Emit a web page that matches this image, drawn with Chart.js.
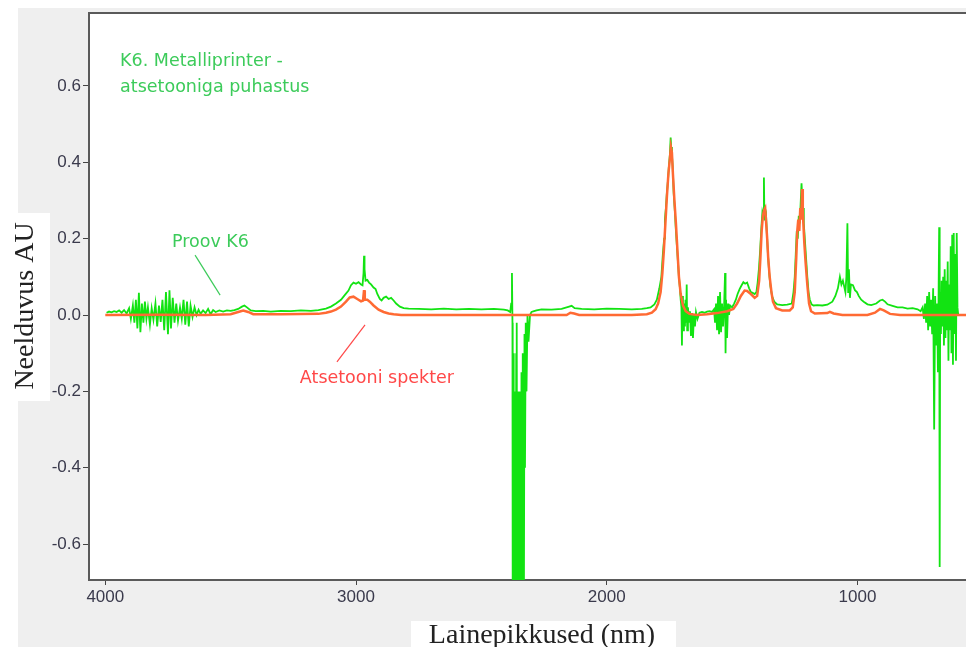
<!DOCTYPE html>
<html>
<head>
<meta charset="utf-8">
<script src="https://cdn.jsdelivr.net/npm/chart.js@4.4.1/dist/chart.umd.min.js"></script>
<style>
  html, body { margin: 0; padding: 0; background: #fff; }
  canvas { display: block; }
</style>
</head>
<body>
<canvas id="spekter" width="966" height="647"></canvas>
<script>
// Atsetooni võrdlusspekter (lainearv / neelduvus)
const acetoneWn = [4000, 3800, 3600, 3500, 3470, 3450, 3430, 3410, 3300, 3150, 3120, 3100, 3080, 3060, 3040, 3025,
  3010, 2995, 2980, 2972, 2968, 2965, 2955, 2945, 2930, 2910, 2890, 2870, 2850, 2820, 2600, 2390, 2300, 2160,
  2145, 2130, 2110, 1900, 1840, 1820, 1805, 1795, 1785, 1778, 1772, 1766, 1760, 1754, 1748, 1744, 1740, 1736,
  1730, 1724, 1718, 1712, 1705, 1696, 1685, 1670, 1640, 1600, 1560, 1520, 1495, 1480, 1465, 1450, 1440, 1425,
  1410, 1400, 1392, 1387, 1382, 1377, 1372, 1368, 1364, 1360, 1356, 1350, 1343, 1337, 1325, 1300, 1270, 1258,
  1250, 1244, 1240, 1236, 1232, 1228, 1224, 1221, 1218, 1215, 1212, 1207, 1200, 1193, 1185, 1170, 1120, 1110,
  1095, 1060, 960, 930, 910, 895, 870, 830, 550];
const acetoneAbs = [0.0, 0.001, 0.0, 0.002, 0.008, 0.012, 0.008, 0.002, 0.002, 0.003, 0.006, 0.009, 0.014, 0.022, 0.035, 0.046,
  0.048, 0.042, 0.036, 0.038, 0.065, 0.04, 0.04, 0.035, 0.025, 0.014, 0.008, 0.004, 0.002, 0.0, 0.0, 0.0, 0.0, 0.0,
  0.006, 0.004, 0.0, 0.0, 0.002, 0.006, 0.015, 0.03, 0.06, 0.11, 0.17, 0.24, 0.31, 0.37, 0.41, 0.44, 0.425, 0.37,
  0.30, 0.24, 0.17, 0.10, 0.055, 0.025, 0.01, 0.003, 0.0, 0.002, 0.005, 0.010, 0.016, 0.03, 0.05, 0.064, 0.063, 0.055,
  0.045, 0.05, 0.09, 0.15, 0.22, 0.26, 0.275, 0.28, 0.24, 0.2, 0.15, 0.10, 0.06, 0.035, 0.018, 0.012, 0.012, 0.02,
  0.06, 0.15, 0.22, 0.25, 0.22, 0.28, 0.25, 0.33, 0.27, 0.23, 0.19, 0.14, 0.08, 0.03, 0.01, 0.004, 0.005, 0.008,
  0.004, 0.0, 0.0, 0.006, 0.016, 0.012, 0.003, 0.0, 0.0];

// Proov K6 mõõdetud spekter
const sampleWn = [3995, 3985, 3975, 3965, 3955, 3945, 3935, 3925, 3915, 3905, 3898, 3890, 3884, 3878, 3872, 3866,
  3860, 3854, 3848, 3842, 3836, 3830, 3822, 3815, 3808, 3800, 3793, 3786, 3779, 3772, 3765, 3758, 3750, 3744,
  3738, 3731, 3724, 3717, 3710, 3702, 3695, 3688, 3681, 3674, 3667, 3660, 3652, 3644, 3636, 3628, 3620, 3610,
  3600, 3590, 3580, 3570, 3560, 3545, 3530, 3515, 3500, 3485, 3470, 3455, 3445, 3435, 3420, 3400, 3370, 3340,
  3300, 3260, 3220, 3180, 3150, 3120, 3100, 3080, 3060, 3045, 3030, 3020, 3010, 3000, 2990, 2980, 2974, 2970,
  2968, 2966, 2962, 2955, 2948, 2940, 2930, 2922, 2915, 2905, 2898, 2890, 2880, 2870, 2860, 2850, 2840, 2825,
  2810, 2790, 2750, 2700, 2650, 2600, 2550, 2500, 2450, 2410, 2395, 2385, 2381, 2378, 2376, 2375, 2373, 2372,
  2370, 2369, 2367, 2366, 2364, 2363, 2361, 2360, 2358, 2357, 2355, 2354, 2352, 2351, 2349, 2348, 2346, 2345,
  2343, 2342, 2340, 2339, 2337, 2336, 2334, 2333, 2331, 2330, 2328, 2326, 2323, 2320, 2316, 2312, 2306, 2300,
  2290, 2280, 2260, 2220, 2180, 2150, 2140, 2128,
  2100, 2050, 2000, 1950, 1900, 1860, 1840, 1825, 1810, 1800, 1790, 1782, 1776, 1771, 1768, 1764, 1760, 1756,
  1752, 1748, 1745, 1743, 1740, 1737, 1733, 1728, 1724, 1720, 1716, 1712, 1708, 1705, 1702, 1700, 1698, 1696,
  1694, 1692, 1690, 1688, 1686, 1684, 1681, 1679, 1676, 1672, 1668, 1664, 1660, 1656, 1652, 1648, 1644, 1638,
  1630, 1620, 1610, 1600, 1590, 1580, 1572, 1568, 1564, 1560, 1556, 1552, 1548, 1544, 1540, 1536, 1532, 1528,
  1526, 1524, 1520, 1516, 1512, 1508, 1500, 1492, 1485, 1478, 1470, 1462, 1455, 1448, 1440, 1432, 1425, 1418,
  1410, 1403, 1398, 1393, 1388, 1383, 1379, 1375, 1373, 1371, 1369, 1365, 1361, 1357, 1352, 1347, 1340, 1332,
  1320, 1300, 1280, 1262, 1255, 1250, 1246, 1242, 1238, 1234, 1230, 1226, 1223, 1220, 1217, 1214, 1210, 1205,
  1200, 1195, 1190, 1183, 1175, 1160, 1140, 1120, 1100, 1088, 1078, 1070, 1064, 1058, 1048, 1044, 1040, 1037,
  1034, 1030, 1026, 1018, 1010, 1002, 995, 985, 975, 960, 945, 925, 910, 900, 890, 880, 860, 840, 820, 800, 780,
  760, 748, 740, 735, 730, 726, 722, 718, 714, 710, 706, 702, 698, 694, 690, 686, 682, 679, 676, 674, 672, 670,
  667, 664, 661, 658, 655, 652, 649, 646, 643, 640, 637, 634, 631, 628, 625, 622, 619, 616, 613, 610, 607, 604,
  601, 598];
const sampleAbs = [0.006, 0.009, 0.007, 0.010, 0.008, 0.012, 0.006, 0.013, 0.004, 0.018, -0.01, 0.025, -0.02, 0.04, -0.035, 0.058,
  -0.045, 0.03, -0.02, 0.035, -0.01, 0.02, -0.025, 0.018, -0.012, 0.03, -0.03, 0.025, -0.018, 0.04, -0.04, 0.06, -0.05, 0.065,
  -0.035, 0.045, -0.02, 0.03, -0.015, 0.02, -0.01, 0.04, -0.025, 0.035, -0.03, 0.025, -0.005, 0.02, 0.0, 0.014, 0.003, 0.012,
  0.005, 0.016, 0.002, 0.013, 0.008, 0.012, 0.009, 0.012, 0.011, 0.013, 0.016, 0.022, 0.025, 0.02, 0.012, 0.010, 0.011, 0.009,
  0.011, 0.010, 0.012, 0.011, 0.013, 0.017, 0.022, 0.03, 0.04, 0.052, 0.064, 0.078, 0.085, 0.082, 0.086, 0.08, 0.078, 0.11,
  0.155, 0.12, 0.09, 0.092, 0.085, 0.08, 0.072, 0.068, 0.055, 0.042, 0.038, 0.045, 0.048, 0.042, 0.045, 0.038, 0.03, 0.022,
  0.018, 0.017, 0.016, 0.015, 0.017, 0.015, 0.016, 0.015, 0.016, 0.014, 0.012, 0.008, 0.03, 0.11, -0.02, -0.8, -0.1, -0.8,
  -0.3, -0.8, -0.2, -0.8, -0.4, -0.8, -0.1, -0.14, -0.02, -0.8, -0.3, -0.8, -0.2, -0.8, -0.4, -0.8, -0.2, -0.8,
  -0.3, -0.8, -0.15, -0.8, -0.25, -0.8, -0.1, -0.8, -0.2, -0.8, -0.05, -0.4, -0.02, -0.2, 0.0, -0.07, 0.0, 0.008,
  0.01, 0.012, 0.015, 0.014, 0.016, 0.022, 0.024, 0.018,
  0.016, 0.015, 0.017, 0.016, 0.015, 0.016, 0.018, 0.02, 0.028, 0.04, 0.07, 0.1, 0.16, 0.2, 0.25, 0.28, 0.32, 0.35,
  0.39, 0.42, 0.465, 0.44, 0.42, 0.39, 0.32, 0.27, 0.22, 0.18, 0.14, 0.1, 0.07, 0.04, 0.02, -0.08, 0.05, 0.01,
  -0.04, 0.03, 0.0, -0.03, 0.04, -0.02, 0.08, -0.04, 0.02, -0.02, 0.01, -0.055, 0.005, -0.06, 0.0, -0.03, 0.008, -0.01,
  0.006, 0.008, 0.006, 0.009, 0.01, 0.008, 0.015, -0.02, 0.03, -0.04, 0.05, -0.05, 0.06, -0.045, 0.03, -0.03, 0.02, 0.11,
  -0.1, 0.04, -0.06, 0.03, 0.0, 0.025, 0.02, 0.03, 0.04, 0.055, 0.068, 0.078, 0.086, 0.082, 0.085, 0.07, 0.06, 0.058,
  0.055, 0.06, 0.085, 0.12, 0.17, 0.23, 0.27, 0.26, 0.36, 0.25, 0.28, 0.27, 0.21, 0.16, 0.11, 0.075, 0.048, 0.035,
  0.028, 0.026, 0.027, 0.03, 0.06, 0.1, 0.16, 0.22, 0.2, 0.26, 0.24, 0.3, 0.345, 0.3, 0.28, 0.24, 0.2, 0.15,
  0.1, 0.06, 0.04, 0.028, 0.025, 0.026, 0.025, 0.027, 0.035, 0.05, 0.07, 0.1, 0.08, 0.09, 0.06, 0.1, 0.24, 0.06,
  0.12, 0.045, 0.08, 0.078, 0.065, 0.06, 0.05, 0.04, 0.035, 0.028, 0.026, 0.03, 0.038, 0.04, 0.035, 0.028, 0.024, 0.02, 0.02, 0.017, 0.018,
  0.015, 0.01, 0.02, -0.01, 0.03, -0.02, 0.05, -0.04, 0.06, -0.03, 0.04, -0.05, 0.07, -0.3, 0.05, -0.08, 0.03, -0.15, 0.08, 0.23, -0.66, 0.06,
  -0.05, 0.09, -0.03, 0.1, -0.08, 0.12, -0.06, 0.09, -0.04, 0.14, -0.12, 0.08, -0.04, 0.18, -0.1, 0.21, -0.13, 0.215, -0.05, 0.16, -0.12, 0.215,
  0.02, 0.0];

const xTickValues = [4000, 3000, 2000, 1000];
const yTickValues = [-0.6, -0.4, -0.2, 0.0, 0.2, 0.4, 0.6];

const toPoints = (xs, ys) => xs.map((x, i) => ({ x: x, y: ys[i] }));

// Taust, valged kastid telgede pealkirjade all ja tekstid graafikul
const decorPlugin = {
    id: 'decor',
    beforeDraw(chart) {
        const c = chart.ctx;
        const a = chart.chartArea;
        c.save();
        c.fillStyle = '#ffffff';
        c.fillRect(0, 0, chart.width, chart.height);
        c.fillStyle = '#efefef';
        c.fillRect(18, 8, chart.width - 18, chart.height - 8);
        c.fillStyle = '#ffffff';
        c.fillRect(a.left, a.top, a.right - a.left, a.bottom - a.top);
        c.fillRect(0, 213, 50, 188);
        c.fillRect(411, 621, 265, 26);
        c.restore();
    },
    afterDraw(chart) {
        const c = chart.ctx;
        const a = chart.chartArea;
        const xs = chart.scales.x, ys = chart.scales.y;
        c.save();
        // ülemine raam
        c.strokeStyle = '#5a5a5a';
        c.lineWidth = 2;
        c.beginPath();
        c.moveTo(a.left, a.top);
        c.lineTo(a.right, a.top);
        c.stroke();

        // telgede pealkirjad
        c.fillStyle = '#222';
        c.font = '28px "Liberation Serif"';
        c.textAlign = 'center';
        c.textBaseline = 'middle';
        c.fillText('Lainepikkused (nm)', 542, 636);
        c.save();
        c.translate(26, 306);
        c.rotate(-Math.PI / 2);
        c.fillText('Neelduvus AU', 0, 0);
        c.restore();

        // märkused
        c.textAlign = 'left';
        c.font = '17.5px "DejaVu Sans"';
        c.fillStyle = '#3ccb5a';
        c.fillText('K6. Metalliprinter -', xs.getPixelForValue(3941), ys.getPixelForValue(0.663));
        c.fillText('atsetooniga puhastus', xs.getPixelForValue(3941), ys.getPixelForValue(0.597));
        c.fillText('Proov K6', xs.getPixelForValue(3734), ys.getPixelForValue(0.189));
        c.fillStyle = '#ff4848';
        c.fillText('Atsetooni spekter', xs.getPixelForValue(3224), ys.getPixelForValue(-0.165));

        c.lineWidth = 1.2;
        c.strokeStyle = '#3ccb5a';
        c.beginPath();
        c.moveTo(xs.getPixelForValue(3642), ys.getPixelForValue(0.157));
        c.lineTo(xs.getPixelForValue(3542), ys.getPixelForValue(0.052));
        c.stroke();
        c.strokeStyle = '#ff4848';
        c.beginPath();
        c.moveTo(xs.getPixelForValue(3076), ys.getPixelForValue(-0.123));
        c.lineTo(xs.getPixelForValue(2964), ys.getPixelForValue(-0.026));
        c.stroke();
        c.restore();
    }
};

const tickFont = { family: '"Liberation Sans", Arial, sans-serif', size: 17 };

new Chart(document.getElementById('spekter'), {
    type: 'line',
    data: {
        datasets: [{
            label: 'Atsetooni spekter',
            data: toPoints(acetoneWn, acetoneAbs),
            borderColor: '#ff6a33',
            borderWidth: 2.5,
            pointRadius: 0,
            tension: 0,
            order: 0
        }, {
            label: 'Proov K6',
            data: toPoints(sampleWn, sampleAbs),
            borderColor: '#12e312',
            borderWidth: 1.8,
            pointRadius: 0,
            tension: 0,
            order: 1
        }]
    },
    options: {
        responsive: false,
        animation: false,
        devicePixelRatio: 1,
        layout: { padding: { top: 13, left: 0, right: 0, bottom: 0 } },
        plugins: {
            legend: { display: false },
            tooltip: { enabled: false }
        },
        scales: {
            x: {
                type: 'linear',
                reverse: true,
                min: 567,
                max: 4065,
                afterBuildTicks: s => { s.ticks = xTickValues.map(v => ({ value: v })); },
                afterFit: s => { s.height = 67; },
                grid: { drawOnChartArea: false, drawTicks: true, tickLength: 5, color: '#444' },
                border: { color: '#5a5a5a', width: 2 },
                ticks: { color: '#3a3a4c', font: tickFont, padding: 2, maxRotation: 0, callback: v => String(v) }
            },
            y: {
                min: -0.694,
                max: 0.791,
                afterBuildTicks: s => { s.ticks = yTickValues.map(v => ({ value: v })); },
                afterFit: s => { s.width = 89; },
                grid: { drawOnChartArea: false, drawTicks: true, tickLength: 6, color: '#444' },
                border: { color: '#5a5a5a', width: 2 },
                ticks: { color: '#3a3a4c', font: tickFont, padding: 2, callback: v => v.toFixed(1) }
            }
        }
    },
    plugins: [decorPlugin]
});
</script>
</body>
</html>
